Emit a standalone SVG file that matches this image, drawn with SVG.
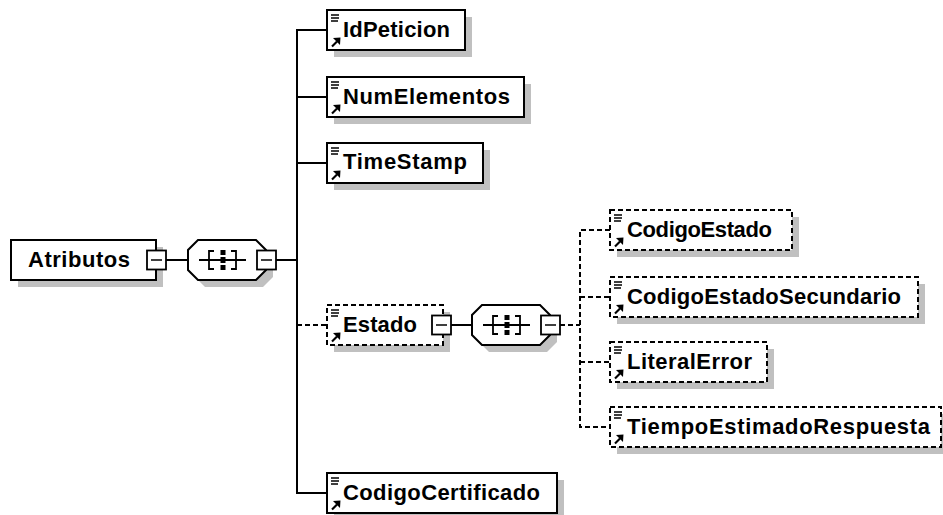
<svg xmlns="http://www.w3.org/2000/svg" xmlns:xlink="http://www.w3.org/1999/xlink" width="943" height="515" viewBox="0 0 943 515">
<style>
.box{fill:#fff;stroke:#000;stroke-width:2}
.dbox{fill:#fff;stroke:#000;stroke-width:2;stroke-dasharray:5,3}
.sh{fill:#c0c0c0;stroke:none}
.t{font-family:"Liberation Sans",Arial,sans-serif;font-weight:bold;font-size:22px;fill:#000}
.ln{stroke:#000;stroke-width:2;fill:none}
.dl{stroke:#000;stroke-width:2;fill:none;stroke-dasharray:5,3}
.thin{stroke:#000;stroke-width:1.8;fill:none}
</style>
<defs>
<g id="elicon">
<path d="M4,5H12M4,8H12M4,11H11" stroke="#000" stroke-width="1.4" fill="none"/>
<path d="M5,36.5L10,31.5" stroke="#000" stroke-width="2.2" fill="none"/>
<polygon points="13.5,27.5 6,28 13,35" fill="#000"/>
</g>
<g id="seqicon">
<path d="M-24,0H23" class="thin"/>
<path d="M-9,-9H-14V9H-9" class="thin"/>
<path d="M8,-9H13V9H8" class="thin"/>
<rect x="-2.5" y="-10" width="5" height="5" fill="#000"/>
<rect x="-2.5" y="-3" width="5" height="6" fill="#000"/>
<rect x="-2.5" y="5" width="5" height="5" fill="#000"/>
</g>
<g id="minus">
<rect x="0" y="0" width="19" height="19" fill="#fff" stroke="#000" stroke-width="1.8"/>
<path d="M4,9.5H15" stroke="#000" stroke-width="1.5"/>
</g>
<path id="oct" d="M10,0H68L78,10V30L68,40H10L0,30V10Z"/>
</defs>

<g id="connectors">
<path class="ln" d="M166,260H188"/>
<path class="ln" d="M276,260H297"/>
<path class="ln" d="M327,30H297V493H327"/>
<path class="ln" d="M297,97H327"/>
<path class="ln" d="M297,163H327"/>
<path class="dl" d="M297,325H327"/>
<path class="ln" d="M451,325H472"/>
<path class="dl" d="M560,325H580"/>
<path class="dl" d="M610,230H580V427H610"/>
<path class="dl" d="M580,297H610"/>
<path class="dl" d="M580,362H610"/>
</g>

<g id="Atributos">
<rect class="sh" x="18" y="247" width="145" height="40"/>
<rect class="box" x="11" y="240" width="145" height="40"/>
<text class="t" x="28" y="267" textLength="102">Atributos</text>
<use xlink:href="#minus" x="147" y="250.5"/>
</g>

<g id="seq1">
<use xlink:href="#oct" x="195" y="247" class="sh"/>
<use xlink:href="#oct" x="188" y="240" class="box"/>
<use xlink:href="#seqicon" x="223" y="260"/>
<use xlink:href="#minus" x="257" y="250.5"/>
</g>

<g id="IdPeticion">
<rect class="sh" x="334" y="17" width="138" height="40"/>
<rect class="box" x="327" y="10" width="138" height="40"/>
<use xlink:href="#elicon" x="327" y="10"/>
<text class="t" x="343" y="37" textLength="107">IdPeticion</text>
</g>

<g id="NumElementos">
<rect class="sh" x="334" y="84" width="197" height="40"/>
<rect class="box" x="327" y="77" width="197" height="40"/>
<use xlink:href="#elicon" x="327" y="77"/>
<text class="t" x="343" y="104" textLength="167">NumElementos</text>
</g>

<g id="TimeStamp">
<rect class="sh" x="334" y="150" width="156" height="40"/>
<rect class="box" x="327" y="143" width="156" height="40"/>
<use xlink:href="#elicon" x="327" y="143"/>
<text class="t" x="343" y="169" textLength="124">TimeStamp</text>
</g>

<g id="Estado">
<rect class="sh" x="334" y="312" width="116" height="40"/>
<rect class="dbox" x="327" y="305" width="116" height="40"/>
<use xlink:href="#elicon" x="327" y="305"/>
<text class="t" x="343" y="332" textLength="74">Estado</text>
<use xlink:href="#minus" x="432" y="315.5"/>
</g>

<g id="seq2">
<use xlink:href="#oct" x="479" y="312" class="sh"/>
<use xlink:href="#oct" x="472" y="305" class="box"/>
<use xlink:href="#seqicon" x="507" y="325"/>
<use xlink:href="#minus" x="541" y="315.5"/>
</g>

<g id="CodigoEstado">
<rect class="sh" x="617" y="217" width="182" height="40"/>
<rect class="dbox" x="610" y="210" width="182" height="40"/>
<use xlink:href="#elicon" x="610" y="210"/>
<text class="t" x="627" y="237" textLength="145">CodigoEstado</text>
</g>

<g id="CodigoEstadoSecundario">
<rect class="sh" x="617" y="284" width="308" height="40"/>
<rect class="dbox" x="610" y="277" width="308" height="40"/>
<use xlink:href="#elicon" x="610" y="277"/>
<text class="t" x="627" y="304" textLength="274">CodigoEstadoSecundario</text>
</g>

<g id="LiteralError">
<rect class="sh" x="617" y="349" width="157" height="40"/>
<rect class="dbox" x="610" y="342" width="157" height="40"/>
<use xlink:href="#elicon" x="610" y="342"/>
<text class="t" x="627" y="369" textLength="125">LiteralError</text>
</g>

<g id="TiempoEstimadoRespuesta">
<rect class="sh" x="617" y="414" width="331" height="40"/>
<rect class="dbox" x="610" y="407" width="331" height="40"/>
<use xlink:href="#elicon" x="610" y="407"/>
<text class="t" x="627" y="434" textLength="303">TiempoEstimadoRespuesta</text>
</g>

<g id="CodigoCertificado">
<rect class="sh" x="334" y="480" width="230" height="40"/>
<rect class="box" x="327" y="473" width="230" height="40"/>
<use xlink:href="#elicon" x="327" y="473"/>
<text class="t" x="343" y="500" textLength="197">CodigoCertificado</text>
</g>
</svg>
